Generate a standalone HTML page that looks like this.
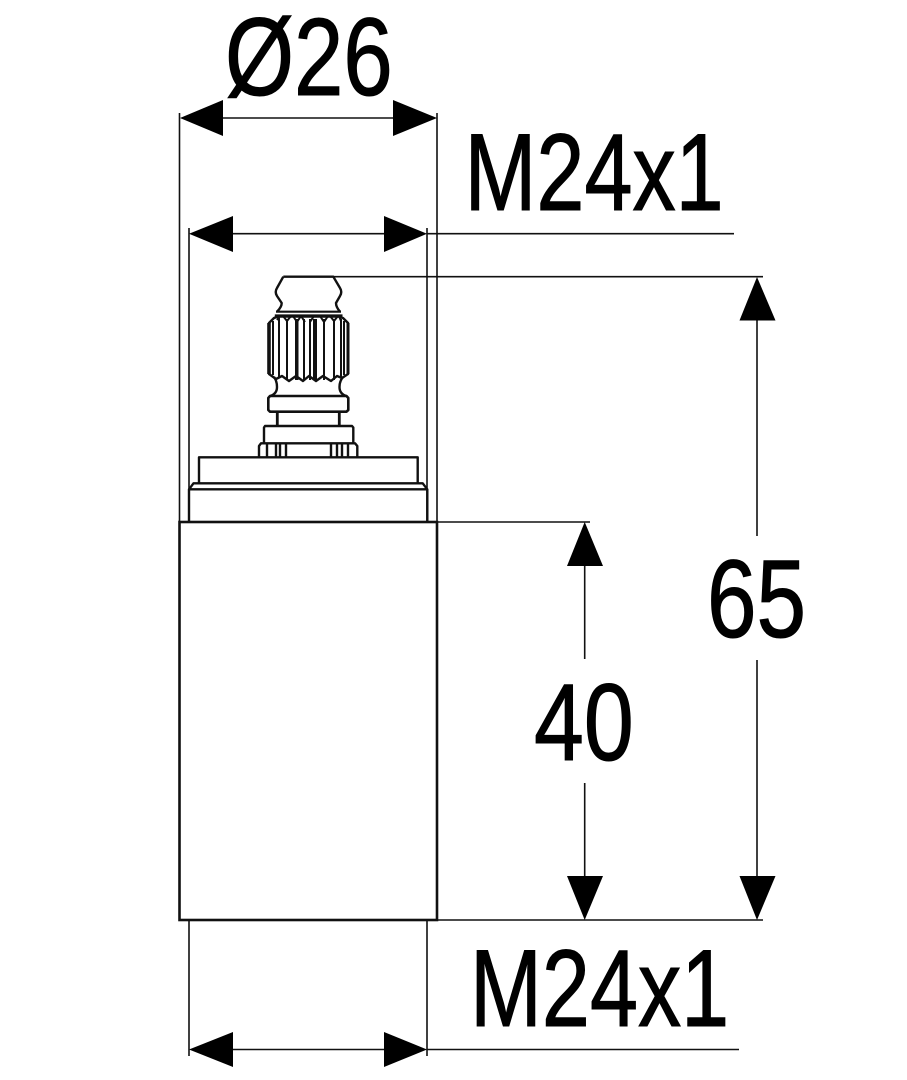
<!DOCTYPE html>
<html><head><meta charset="utf-8"><style>
html,body{margin:0;padding:0;background:#fff}
svg{display:block}
text{font-family:"Liberation Sans",sans-serif;font-size:110px;fill:#000;stroke:#000;stroke-width:1.1px}
</style></head><body>
<svg width="907" height="1080" viewBox="0 0 907 1080" xmlns="http://www.w3.org/2000/svg">
<rect width="907" height="1080" fill="#fff"/>
<!-- extension and dimension lines -->
<g stroke="#111" stroke-width="1.6" fill="none">
<path d="M179.5 113V522M437 113V522"/>
<path d="M189 228V522M427 228V522"/>
<path d="M189 920V1056M427 920V1056"/>
<path d="M223 118H393"/>
<path d="M233 233.7H384M427 233.7H734"/>
<path d="M233 1049.5H384M427 1049.5H739"/>
<path d="M333 276.7H763"/>
<path d="M437 522H590"/>
<path d="M437 920H763"/>
<path d="M584.7 566V659M584.7 783V876"/>
<path d="M757 320V536M757 660V876"/>
</g>
<!-- arrowheads -->
<g fill="#000">
<path d="M180 118L223 100V136Z"/><path d="M437 118L393 100V136Z"/>
<path d="M189 233.7L233 216V252Z"/><path d="M427 233.7L384 216V252Z"/>
<path d="M189 1049.5L233 1032V1067Z"/><path d="M427 1049.5L384 1032V1067Z"/>
<path d="M584.7 522L567 566H603Z"/><path d="M584.7 920L567 876H603Z"/>
<path d="M757 277L739.5 320.5H775.5Z"/><path d="M757 920L739.5 876H775.5Z"/>
</g>
<!-- body -->
<rect x="179.5" y="522" width="257.5" height="398" fill="#fff" stroke="#111" stroke-width="2.6"/>
<!-- part -->
<g stroke="#111" stroke-width="2.4" fill="none" stroke-linejoin="round">
<path d="M189 522V489.3L193.5 483.3H422.7L427.3 489.3V522M189 489.3H427.3"/>
<path d="M199 483V457.3H417.7V483"/>
<path d="M259 457.3V446L261 443.3H355L357.3 446V457.3M267 444V457M276 444V457M280 444V457M286 444V457M331 444V457M337 444V457M342 444V457M348 444V457"/>
<path d="M264 443.3V427.5L265 426H352L353.3 427.5V443.3"/>
<path d="M277.3 426V411.7M339.3 426V411.7" stroke-width="2.8"/>
<path d="M268.3 398V410L270 411.7H346.5L348.3 410V398L346.5 396H270Z" stroke-width="2.6"/>
<path d="M270 396Q277 394 277 387Q277 381 274 377M346.5 396Q339.5 394 339.5 387Q339.5 381 343 377"/>
<path d="M283.3 276.7H333.3L340 288Q342.5 292 340 296L336 303Q336 307 340 311.7M283.3 276.7L277 288Q274.5 292 277 296L281.7 303Q281.7 307 277 311.7"/>
<path d="M276 311.7H341M274.8 315.5H342.5" stroke-width="2.2"/>
<path d="M269 323L274 318L278 316.5H338L343 318L348 323V374L342 378L337 376L331 381L323 376L316 381L309 376L303 381L296 376L289 381L282 376L276 379L269 374Z" stroke-width="2.4"/>
<path d="M269 323V374" stroke-width="3.6"/>
<path d="M348 323V374" stroke-width="3"/>
<path d="M273 321V375M279 318V378M287 319V380M296 319V380M297.5 319V380M304 319V380M310 319V380M314 319V380M316 319V380M324 319V380M334 319V380M341 319V378M344 321V375" stroke-width="2"/>
<path d="M277 320L280 316M287 321L283 316M287 321L291 316M297 322L293 316M297 322L301 316M305 322L301 316M310 322L314 316M324 322L320 316M324 322L328 316M334 321L330 316M334 321L338 316M341 321L339 316" stroke-width="2"/>
</g>
<!-- labels -->
<text transform="translate(225,95) scale(.807,1)">Ø26</text>
<text transform="translate(464.5,210) scale(.785,1)">M24x1</text>
<text transform="translate(470,1026) scale(.785,1)">M24x1</text>
<text transform="translate(707,637) scale(.81,1)">65</text>
<text transform="translate(534,760) scale(.815,1)">40</text>
</svg>
</body></html>
